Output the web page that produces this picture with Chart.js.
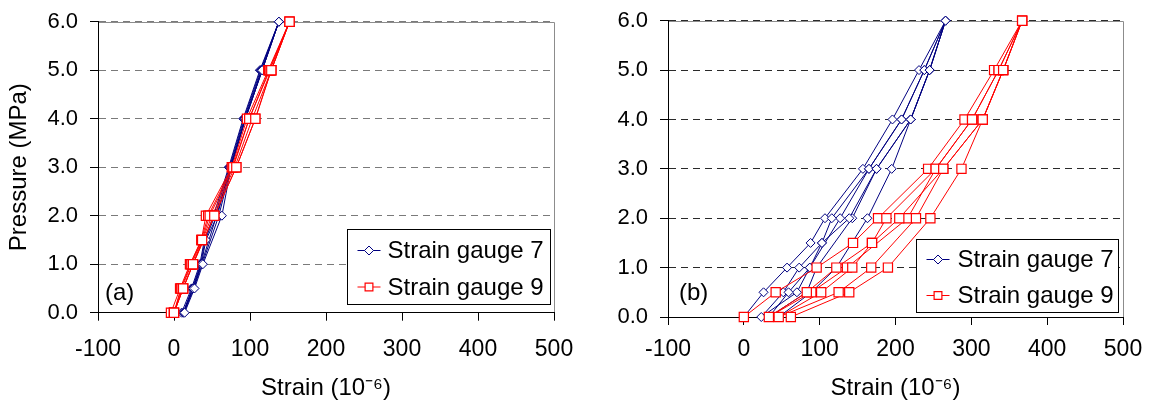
<!DOCTYPE html>
<html>
<head>
<meta charset="utf-8">
<script src="https://cdn.jsdelivr.net/npm/chart.js@4.4.0/dist/chart.umd.min.js"></script>
<style>
  html, body { margin: 0; padding: 0; background: #fff; }
  #wrap { position: relative; width: 1152px; height: 403px; overflow: hidden; }
  canvas { position: absolute; top: 0; }
  #chartA { left: 0; }
  #chartB { left: 576px; }
</style>
</head>
<body>
<div id="wrap">
  <canvas id="chartA" width="576" height="403"></canvas>
  <canvas id="chartB" width="576" height="403"></canvas>
</div>
<script>
// Pressure (MPa) at each reading: three load/unload cycles
const pressureSteps = [
  0, 0.5, 1, 1.5, 2, 3, 4, 5, 6, 5, 4, 3, 2, 1, 0.5, 0,
  0.5, 1, 1.5, 2, 3, 4, 5, 6, 5, 4, 3, 2, 1, 0.5, 0,
  0.5, 1, 1.5, 2, 3, 4, 5, 6, 5, 4, 3, 2, 1, 0.5, 0
];

// Strain readings (10^-6), panel (a)
const gauge7A = [
  10, 23, 34, 40, 52, 72, 91, 113, 138, 116, 94, 74, 56, 36, 25, 12,
  24, 35, 41, 54, 73, 92, 114, 138, 116, 94, 75, 59, 37, 26, 13,
  25, 36, 42, 57, 74, 93, 115, 138, 116, 94, 75, 63, 38, 27, 14
];
const gauge9A = [
  -4, 8, 21, 36, 42, 76, 96, 124, 152, 128, 103, 80, 50, 25, 12, 0,
  9, 22, 36, 45, 77, 99, 125, 152, 128, 107, 82, 53, 25, 12, 0,
  10, 23, 37, 47, 78, 99, 126, 152, 128, 107, 82, 53, 25, 12, 0
];

// Strain readings (10^-6), panel (b)
const gauge7B = [
  0, 26, 57, 88, 107, 157, 196, 231, 266, 238, 208, 165, 127, 87, 70, 23,
  52, 73, 103, 116, 165, 208, 238, 266, 245, 220, 175, 143, 96, 83, 33,
  59, 87, 103, 139, 175, 220, 245, 266, 245, 220, 195, 163, 122, 89, 46
];
const gauge9B = [
  0, 42, 96, 144, 177, 243, 291, 330, 367, 336, 301, 253, 216, 136, 89, 33,
  83, 122, 169, 188, 253, 301, 336, 367, 342, 315, 263, 227, 168, 125, 46,
  102, 143, 169, 205, 263, 315, 342, 367, 342, 315, 287, 246, 190, 139, 62
];

const strainTicks = [-100, 0, 100, 200, 300, 400, 500];
const pressureTicks = [0, 1, 2, 3, 4, 5, 6];

const FONT = '"Liberation Sans", Arial, Helvetica, sans-serif';
const BLUE = '#000080';
const RED = '#ff0000';

function toPoints(strains) {
  return strains.map((s, i) => ({ x: s, y: pressureSteps[i] }));
}

function gaugeDatasets(g7, g9) {
  // gauge 9 listed first so its squares sit above gauge 7
  return [
    {
      label: 'Strain gauge 9', data: toPoints(g9),
      borderColor: RED, borderWidth: 1, backgroundColor: '#fff',
      pointStyle: 'rect', pointRadius: 6.5, pointBorderWidth: 1.2,
      pointBackgroundColor: '#fff', pointBorderColor: RED,
      tension: 0, clip: false
    },
    {
      label: 'Strain gauge 7', data: toPoints(g7),
      borderColor: BLUE, borderWidth: 1, backgroundColor: '#fff',
      pointStyle: 'rectRot', pointRadius: 4.5, pointBorderWidth: 1,
      pointBackgroundColor: '#fff', pointBorderColor: BLUE,
      tension: 0, clip: false
    }
  ];
}

// Plot frame, panel tag and boxed legend
const panelDecor = {
  id: 'panelDecor',
  beforeDraw(chart, args, opts) {
    const { ctx, chartArea: a } = chart;
    const t = Math.round(a.top) + 0.5, r = Math.round(a.right) + 0.5;
    ctx.save();
    ctx.strokeStyle = opts.frameColor;
    ctx.lineWidth = 1;
    ctx.beginPath();
    ctx.moveTo(a.left, t);
    ctx.lineTo(r, t);
    ctx.lineTo(r, a.bottom);
    ctx.stroke();
    ctx.restore();
  },
  afterDraw(chart, args, opts) {
    const { ctx, chartArea: a } = chart;
    ctx.save();
    ctx.font = '24px ' + FONT;
    ctx.fillStyle = '#000';
    ctx.textBaseline = 'middle';
    ctx.textAlign = 'left';
    ctx.fillText(opts.tag, a.left + opts.tagDx, a.bottom - opts.tagDy);

    const L = opts.legend;
    const bx = Math.round(a.right - L.right - L.width) + 0.5;
    const by = Math.round(a.bottom - L.bottom - L.height) + 0.5;
    ctx.fillStyle = '#fff';
    ctx.fillRect(bx, by, L.width, L.height);
    ctx.strokeStyle = '#000';
    ctx.lineWidth = 1;
    ctx.strokeRect(bx, by, L.width, L.height);

    const entries = [...chart.data.datasets].reverse();
    entries.forEach((ds, i) => {
      const y = by + L.rows[i];
      ctx.strokeStyle = ds.borderColor;
      ctx.lineWidth = 1;
      ctx.beginPath();
      ctx.moveTo(bx + L.lineFrom, y);
      ctx.lineTo(bx + L.lineTo, y);
      ctx.stroke();
      ctx.fillStyle = '#fff';
      ctx.strokeStyle = ds.pointBorderColor;
      ctx.lineWidth = ds.pointBorderWidth;
      Chart.helpers.drawPoint(ctx, {
        pointStyle: ds.pointStyle, radius: ds.pointStyle === 'rect' ? 5.5 : 4.5,
        rotation: 0, borderWidth: ds.pointBorderWidth
      }, bx + (L.lineFrom + L.lineTo) / 2, y);
      ctx.fillStyle = '#000';
      ctx.font = '24px ' + FONT;
      ctx.textBaseline = 'middle';
      ctx.fillText(ds.label, bx + L.textX, y + 1);
    });
    ctx.restore();
  }
};

function makeChart(id, g7, g9, cfg) {
  return new Chart(document.getElementById(id), {
    type: 'line',
    data: { datasets: gaugeDatasets(g7, g9) },
    plugins: [panelDecor],
    options: {
      responsive: false,
      animation: false,
      devicePixelRatio: 1,
      layout: { padding: cfg.padding },
      plugins: {
        legend: { display: false },
        tooltip: { enabled: false },
        panelDecor: {
          frameColor: '#8c8c8c', tag: cfg.tag, tagDx: cfg.tagDx, tagDy: cfg.tagDy,
          legend: cfg.legend
        }
      },
      scales: {
        x: {
          type: 'linear',
          min: strainTicks[0], max: strainTicks[strainTicks.length - 1],
          afterBuildTicks: s => { s.ticks = strainTicks.map(v => ({ value: v })); },
          afterFit: s => { s.height = cfg.xHeight; s.paddingLeft = 0; s.paddingRight = 0; },
          grid: { drawOnChartArea: false, drawTicks: true, tickLength: 8, tickColor: '#000', color: '#000' },
          border: { display: true, color: '#000', width: 1 },
          ticks: {
            autoSkip: false, maxRotation: 0, color: '#000', padding: cfg.xTickPad,
            font: { family: FONT, size: 23 }, callback: v => String(v)
          },
          title: {
            display: true, text: 'Strain (10\u207B\u2076)', color: '#000',
            font: { family: FONT, size: 24 }, padding: { top: 0, bottom: 0 }
          }
        },
        y: {
          type: 'linear',
          min: pressureTicks[0], max: pressureTicks[pressureTicks.length - 1],
          afterBuildTicks: s => { s.ticks = pressureTicks.map(v => ({ value: v })); },
          afterFit: s => { s.width = cfg.yWidth; s.paddingTop = 0; s.paddingBottom = 0; },
          grid: {
            color: cfg.gridColor, lineWidth: 1, drawTicks: true, tickLength: 8,
            tickColor: '#000', tickBorderDash: []
          },
          border: { display: true, color: '#000', width: 1, dash: [7, 5] },
          ticks: {
            color: '#000', padding: 12,
            font: { family: FONT, size: 22 }, callback: v => Number(v).toFixed(1)
          },
          title: {
            display: cfg.yTitle, text: 'Pressure (MPa)', color: '#000',
            font: { family: FONT, size: 24 }, padding: { top: 5, bottom: 0 }
          }
        }
      }
    }
  });
}

makeChart('chartA', gauge7A, gauge9A, {
  padding: { left: 0, right: 22, top: 21.7, bottom: 0 },
  yWidth: 98, xHeight: 90.3, xTickPad: 15, yTitle: true,
  gridColor: '#7a7a7a',
  tag: '(a)', tagDx: 7, tagDy: 19,
  legend: { right: 4, bottom: 9, width: 203, height: 75, rows: [21, 57.5], lineFrom: 10, lineTo: 33, textX: 40 }
});

makeChart('chartB', gauge7B, gauge9B, {
  padding: { left: 0, right: 29, top: 20.7, bottom: 0 },
  yWidth: 92, xHeight: 86, xTickPad: 11, yTitle: false,
  gridColor: '#2a2a2a',
  tag: '(b)', tagDx: 11, tagDy: 24,
  legend: { right: 5, bottom: 5.3, width: 202, height: 73, rows: [20, 56], lineFrom: 10, lineTo: 33, textX: 41 }
});
</script>
</body>
</html>
